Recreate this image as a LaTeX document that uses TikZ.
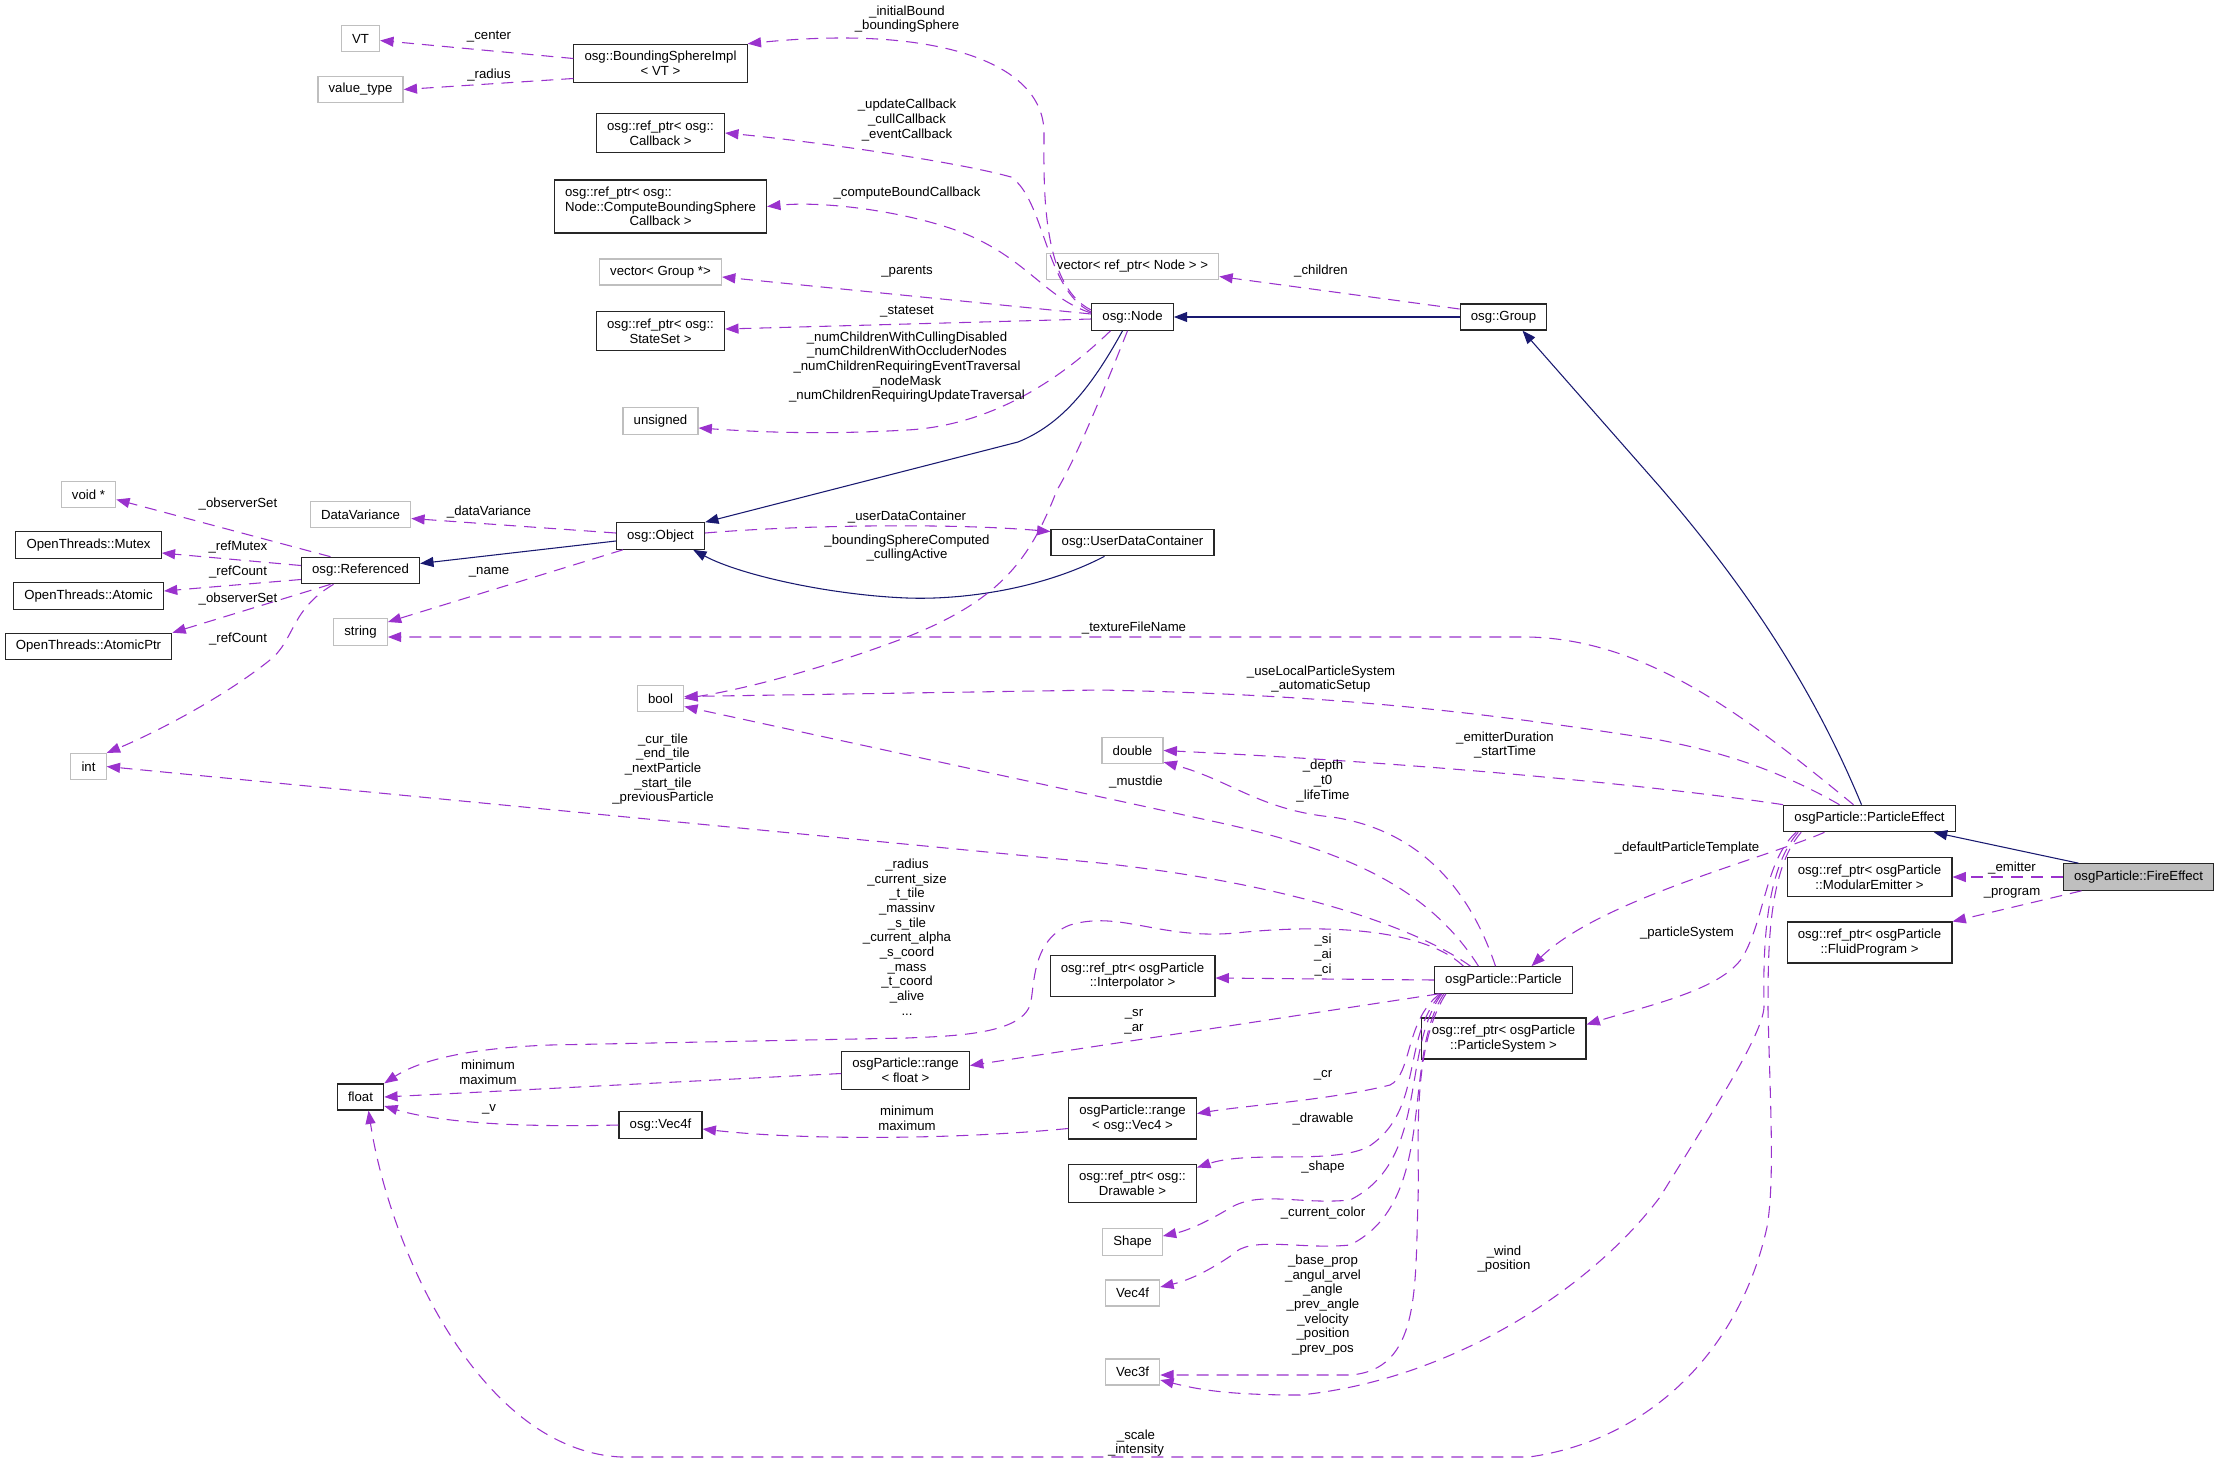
\documentclass[tikz,border=0pt]{standalone}
\usepackage{fontspec}
\setsansfont{Liberation Sans}
\usepackage{tikz}
\usetikzlibrary{calc,shapes,arrows.meta}
\definecolor{edgepurple}{HTML}{9A32CD}
\definecolor{edgenavy}{HTML}{191970}
\definecolor{boxgrey}{HTML}{BFBFBF}
\newcommand\dotfont{\fontsize{9.9pt}{11pt}\selectfont\sffamily}
\tikzstyle{classbox}=[rectangle,draw=black!85,fill=white,line width=0.9pt,
                      font=\dotfont,align=center,inner xsep=8pt,inner ysep=5.3pt,
                      minimum height=19.5pt]
\tikzstyle{extbox}=[classbox,draw=boxgrey]
\tikzstyle{focusbox}=[classbox,fill=boxgrey]
\tikzstyle{edgelabel}=[font=\dotfont,align=center,inner sep=0pt]
\tikzstyle{memberedge}=[draw=edgepurple,line width=0.8pt,dash pattern=on 9pt off 6pt,
                        -{Triangle[length=10pt,width=7.5pt]}]
\tikzstyle{baseedge}=[draw=edgenavy,line width=0.8pt,-{Triangle[length=10pt,width=7.5pt]}]
% columns of the graph, in pixels
\newcommand\colA{88.5}
\newcommand\colB{360.5}
\newcommand\colC{660.5}
\newcommand\colE{1132.5}
\newcommand\colF{1503.5}
\newcommand\colG{1869.5}
\newcommand\colH{2138.5}

\begin{document}
\begin{tikzpicture}[x=0.75pt,y=-0.75pt]
	\useasboundingbox (0,0) rectangle (2223,1464);

	% classes
	\node [extbox] (vt) at (\colB,38.5) {VT};
	\node [extbox] (valueType) at (\colB,89.5) {value\_type};
	\node [classbox] (sphereImpl) at (\colC,63.5) {osg::BoundingSphereImpl\\< VT >};
	\node [classbox] (callbackPtr) at (\colC,133) {osg::ref\_ptr< osg::\\Callback >};
	\node [classbox] (boundCallbackPtr) at (\colC,206.5) {
		\rlap{osg::ref\_ptr< osg::}\phantom{Node::ComputeBoundingSphere}\\Node::ComputeBoundingSphere\\Callback >
	};
	\node [extbox] (groupVector) at (\colC,272) {vector< Group *>};
	\node [classbox] (stateSetPtr) at (\colC,331) {osg::ref\_ptr< osg::\\StateSet >};
	\node [extbox] (unsignedT) at (\colC,421) {unsigned};
	\node [classbox] (osgNode) at (\colE,317) {osg::Node};
	\node [extbox] (childVector) at (\colE,266.5) {vector< ref\_ptr< Node > >};
	\node [classbox] (osgGroup) at (\colF,317) {osg::Group};

	\node [extbox] (voidPtr) at (\colA,494.5) {void *};
	\node [classbox] (otMutex) at (\colA,545) {OpenThreads::Mutex};
	\node [classbox] (otAtomic) at (\colA,596) {OpenThreads::Atomic};
	\node [classbox] (otAtomicPtr) at (\colA,646.5) {OpenThreads::AtomicPtr};
	\node [extbox] (intT) at (\colA,766.5) {int};
	\node [extbox] (dataVariance) at (\colB,514.5) {DataVariance};
	\node [classbox] (osgReferenced) at (\colB,570.5) {osg::Referenced};
	\node [extbox] (stringT) at (\colB,632) {string};
	\node [classbox] (osgObject) at (\colC,536) {osg::Object};
	\node [classbox] (userData) at (\colE,542.5) {osg::UserDataContainer};
	\node [extbox] (boolT) at (\colC,698.5) {bool};
	\node [extbox] (doubleT) at (\colE,750.5) {double};

	\node [classbox] (particleEffect) at (\colG,818.5) {osgParticle::ParticleEffect};
	\node [focusbox] (fireEffect) at (\colH,877) {osgParticle::FireEffect};
	\node [classbox] (emitterPtr) at (\colG,877) {osg::ref\_ptr< osgParticle\\::ModularEmitter >};
	\node [classbox] (programPtr) at (\colG,942.5) {osg::ref\_ptr< osgParticle\\::FluidProgram >};

	\node [classbox] (floatT) at (\colB,1097) {float};
	\node [classbox] (rangeFloat) at (905.5,1070.5) {osgParticle::range\\< float >};
	\node [classbox] (osgVecFour) at (\colC,1125) {osg::Vec4f};
	\node [classbox] (interpolatorPtr) at (\colE,976) {osg::ref\_ptr< osgParticle\\::Interpolator >};
	\node [classbox] (rangeVec) at (\colE,1118.5) {osgParticle::range\\< osg::Vec4 >};
	\node [classbox] (drawablePtr) at (\colE,1183.5) {osg::ref\_ptr< osg::\\Drawable >};
	\node [extbox] (shapeT) at (\colE,1242) {Shape};
	\node [extbox] (vecFour) at (\colE,1293) {Vec4f};
	\node [extbox] (vecThree) at (\colE,1372) {Vec3f};
	\node [classbox] (particle) at (\colF,980) {osgParticle::Particle};
	\node [classbox] (systemPtr) at (\colF,1038.5) {osg::ref\_ptr< osgParticle\\::ParticleSystem >};

	% inheritance
	\draw [baseedge] (osgGroup.west) -- (osgNode.east);
	\draw [baseedge] ($(osgNode.south)+(-10,0)$) .. controls (1090,390) and (1060,425) .. (1018,442) -- (osgObject.north east);
	\draw [baseedge] ($(userData.south)+(-28,0)$) .. controls (1040,590) and (960,600) .. (907,598)
		.. controls (830,595) and (740,575) .. ($(osgObject.south east)+(-12,0)$);
	\draw [baseedge] ($(osgObject.west)+(0,5)$) -- ($(osgReferenced.east)+(0,-7)$);
	\draw [baseedge] ($(particleEffect.north)+(-8,0)$) .. controls (1810,680) and (1740,580) .. (1660,487) -- ($(osgGroup.south)+(19,0)$);
	\draw [baseedge] ($(fireEffect.north)+(-60,0)$) -- ($(particleEffect.south east)+(-22,0)$);

	% members of osg::BoundingSphereImpl and osg::Node
	\draw [memberedge] ($(sphereImpl.west)+(0,-5)$) -- ($(vt.east)+(0,2)$);
	\draw [memberedge] ($(sphereImpl.west)+(0,15)$) -- (valueType.east);
	\draw [memberedge] ($(osgNode.west)+(0,-7)$) .. controls (1040,285) and (1044,180) .. (1044,133)
		.. controls (1044,60) and (930,25) .. (sphereImpl.north east);
	\draw [memberedge] ($(osgNode.west)+(0,-5)$) .. controls (1045,290) and (1045,200) .. (1011,177)
		.. controls (950,160) and (800,140) .. (callbackPtr.east);
	\draw [memberedge] ($(osgNode.west)+(0,-4)$) .. controls (1050,300) and (1030,265) .. (979,240)
		.. controls (930,215) and (830,200) .. (boundCallbackPtr.east);
	\draw [memberedge] ($(osgNode.west)+(0,-3)$) -- ($(groupVector.east)+(0,5)$);
	\draw [memberedge] ($(osgNode.west)+(0,2)$) -- ($(stateSetPtr.east)+(0,-2)$);
	\draw [memberedge] ($(osgNode.south)+(-22,0)$) .. controls (1070,370) and (1000,425) .. (907,430)
		.. controls (820,435) and (760,432) .. ($(unsignedT.east)+(0,7)$);
	\draw [memberedge] ($(osgNode.south)+(-5,0)$) .. controls (1100,400) and (1075,460) .. (1057,490)
		.. controls (1030,560) and (1000,600) .. (907,637) .. controls (820,670) and (740,690) .. (boolT.east);
	\draw [memberedge] ($(osgGroup.west)+(0,-8)$) -- ($(childVector.east)+(0,10)$);

	% members of osg::Object and osg::Referenced
	\draw [memberedge] ($(osgObject.east)+(0,-3)$) .. controls (800,525) and (950,523) .. ($(userData.west)+(0,-11)$);
	\draw [memberedge] ($(osgObject.west)+(0,-3)$) -- ($(dataVariance.east)+(0,4)$);
	\draw [memberedge] ($(osgObject.south west)+(7,0)$) -- ($(stringT.east)+(0,-10)$);
	\draw [memberedge] ($(osgReferenced.north)+(-30,0)$) -- ($(voidPtr.east)+(0,5)$);
	\draw [memberedge] ($(osgReferenced.west)+(0,-5)$) -- ($(otMutex.east)+(0,8)$);
	\draw [memberedge] ($(osgReferenced.west)+(0,9)$) -- ($(otAtomic.east)+(0,-5)$);
	\draw [memberedge] ($(osgReferenced.south)+(-30,0)$) -- (otAtomicPtr.north east);
	\draw [memberedge] ($(osgReferenced.south)+(-27,0)$) .. controls (290,610) and (295,640) .. (270,660)
		.. controls (220,700) and (150,735) .. (intT.north east);

	% members of osgParticle::ParticleEffect and osgParticle::FireEffect
	\draw [memberedge] ($(particleEffect.north)+(-16,0)$) .. controls (1750,720) and (1650,640) .. (1529,637) -- ($(stringT.east)+(0,5)$);
	\draw [memberedge] ($(particleEffect.north)+(-30,0)$) .. controls (1770,765) and (1710,750) .. (1660,740)
		.. controls (1500,715) and (1350,695) .. (1100,690) -- ($(boolT.east)+(0,-2)$);
	\draw [memberedge] (particleEffect.north west) .. controls (1720,795) and (1500,767) .. (doubleT.east);
	\draw [memberedge] ($(particleEffect.south)+(-45,0)$) .. controls (1760,860) and (1600,900) .. ($(particle.north)+(28,0)$);
	\draw [memberedge] ($(particleEffect.south west)+(13,0)$) .. controls (1765,860) and (1765,920) .. (1742,958)
		.. controls (1720,990) and (1650,1005) .. ($(systemPtr.east)+(0,-14)$);
	\draw [memberedge] ($(particleEffect.south west)+(15,0)$) .. controls (1765,870) and (1763,950) .. (1764,1005)
		.. controls (1765,1030) and (1720,1100) .. (1660,1197) .. controls (1590,1290) and (1450,1380) .. (1300,1395)
		.. controls (1230,1395) and (1200,1390) .. ($(vecThree.east)+(0,8)$);
	\draw [memberedge] ($(particleEffect.south west)+(18,0)$) .. controls (1768,870) and (1768,950) .. (1768,1010)
		.. controls (1770,1100) and (1775,1180) .. (1767,1227) .. controls (1740,1350) and (1650,1440) .. (1529,1457)
		-- (621,1457) .. controls (480,1450) and (390,1250) .. ($(floatT.south)+(8,0)$);
	\draw [memberedge] (fireEffect.west) -- (emitterPtr.east);
	\draw [memberedge] ($(fireEffect.south)+(-57,0)$) -- ($(programPtr.east)+(0,-21)$);

	% members of osgParticle::Particle
	\draw [memberedge] ($(particle.north)+(-8,0)$) .. controls (1470,890) and (1420,830) .. (1332,817)
		.. controls (1260,810) and (1230,780) .. ($(doubleT.south east)+(0,-2)$);
	\draw [memberedge] ($(particle.north)+(-25,0)$) .. controls (1430,890) and (1350,850) .. (1207,820) -- ($(boolT.east)+(0,8)$);
	\draw [memberedge] ($(particle.north)+(-33,0)$) .. controls (1420,930) and (1300,885) .. (1100,863) -- (intT.east);
	\draw [memberedge] ($(particle.north)+(-40,0)$) .. controls (1420,925) and (1310,925) .. (1236,933)
		.. controls (1160,940) and (1120,910) .. (1070,925) .. controls (1030,940) and (1035,990) .. (1030,1005)
		.. controls (1020,1035) and (950,1036) .. (907,1038) -- (550,1045)
		.. controls (470,1048) and (420,1060) .. (floatT.north east);
	\draw [memberedge] (particle.west) -- ($(interpolatorPtr.east)+(0,2)$);
	\draw [memberedge] ($(particle.south west)+(5,0)$) -- ($(rangeFloat.east)+(0,-5)$);
	\draw [memberedge] ($(particle.south west)+(6,0)$) .. controls (1405,1020) and (1412,1075) .. (1390,1085)
		.. controls (1330,1100) and (1250,1105) .. ($(rangeVec.east)+(0,-5)$);
	\draw [memberedge] ($(particle.south west)+(7,0)$) .. controls (1400,1040) and (1425,1110) .. (1368,1147)
		.. controls (1330,1165) and (1250,1150) .. ($(drawablePtr.east)+(0,-16)$);
	\draw [memberedge] ($(particle.south west)+(8,0)$) .. controls (1400,1050) and (1430,1160) .. (1350,1200)
		.. controls (1300,1205) and (1260,1190) .. (1230,1208) .. controls (1210,1220) and (1190,1230) .. ($(shapeT.east)+(0,-6)$);
	\draw [memberedge] ($(particle.south west)+(10,0)$) .. controls (1400,1060) and (1440,1200) .. (1350,1245)
		.. controls (1300,1250) and (1250,1235) .. (1232,1255) .. controls (1210,1270) and (1190,1280) .. ($(vecFour.east)+(0,-6)$);
	\draw [memberedge] ($(particle.south west)+(12,0)$) .. controls (1410,1050) and (1420,1150) .. (1418,1200)
		.. controls (1415,1290) and (1420,1370) .. (1350,1375) -- ($(vecThree.east)+(0,3)$);

	% ranges and vectors
	\draw [memberedge] ($(rangeFloat.west)+(0,3)$) -- (floatT.east);
	\draw [memberedge] (osgVecFour.west) .. controls (500,1128) and (430,1120) .. ($(floatT.east)+(0,9)$);
	\draw [memberedge] ($(rangeVec.west)+(0,10)$) .. controls (950,1140) and (800,1140) .. ($(osgVecFour.east)+(0,4)$);

	% labels
	\node [edgelabel] (lbCenter) at (489,37) {\_center};
	\node [edgelabel] (lbRadius) at (489,75) {\_radius};
	\node [edgelabel] (lbBound) at (907,19) {\_initialBound\\\_boundingSphere};
	\node [edgelabel] (lbCallback) at (907,120) {\_updateCallback\\\_cullCallback\\\_eventCallback};
	\node [edgelabel] (lbComputeBound) at (907,193) {\_computeBoundCallback};
	\node [edgelabel] (lbParents) at (907,272) {\_parents};
	\node [edgelabel] (lbStateset) at (907,312) {\_stateset};
	\node [edgelabel] (lbNumChildren) at (907,367) {
		\_numChildrenWithCullingDisabled\\\_numChildrenWithOccluderNodes\\
		\_numChildrenRequiringEventTraversal\\\_nodeMask\\\_numChildrenRequiringUpdateTraversal
	};
	\node [edgelabel] (lbChildren) at (1321,271) {\_children};
	\node [edgelabel] (lbUserData) at (907,517) {\_userDataContainer};
	\node [edgelabel] (lbSphereComputed) at (907,548) {\_boundingSphereComputed\\\_cullingActive};
	\node [edgelabel] (lbDataVariance) at (489,512) {\_dataVariance};
	\node [edgelabel] (lbName) at (489,572) {\_name};
	\node [edgelabel] (lbObserverSet) at (238,504) {\_observerSet};
	\node [edgelabel] (lbRefMutex) at (238,547) {\_refMutex};
	\node [edgelabel] (lbRefCount) at (238,572) {\_refCount};
	\node [edgelabel] (lbObserverSetPtr) at (238,599) {\_observerSet};
	\node [edgelabel] (lbRefCountInt) at (238,639) {\_refCount};
	\node [edgelabel] (lbTexture) at (1134,628) {\_textureFileName};
	\node [edgelabel] (lbLocalSystem) at (1321,679) {\_useLocalParticleSystem\\\_automaticSetup};
	\node [edgelabel] (lbEmitterDuration) at (1505,745) {\_emitterDuration\\\_startTime};
	\node [edgelabel] (lbDepth) at (1323,781) {\_depth\\\_t0\\\_lifeTime};
	\node [edgelabel] (lbMustdie) at (1136,782) {\_mustdie};
	\node [edgelabel] (lbTiles) at (663,769) {\_cur\_tile\\\_end\_tile\\\_nextParticle\\\_start\_tile\\\_previousParticle};
	\node [edgelabel] (lbFloats) at (907,937) {
		\_radius\\\_current\_size\\\_t\_tile\\\_massinv\\\_s\_tile\\\_current\_alpha\\
		\_s\_coord\\\_mass\\\_t\_coord\\\_alive\\...
	};
	\node [edgelabel] (lbMinMaxF) at (488,1072) {minimum\\maximum};
	\node [edgelabel] (lbV) at (489,1109) {\_v};
	\node [edgelabel] (lbMinMaxV) at (907,1118) {minimum\\maximum};
	\node [edgelabel] (lbSrAr) at (1134,1022) {\_sr\\\_ar};
	\node [edgelabel] (lbSiAiCi) at (1323,955) {\_si\\\_ai\\\_ci};
	\node [edgelabel] (lbCr) at (1323,1075) {\_cr};
	\node [edgelabel] (lbDrawable) at (1323,1119) {\_drawable};
	\node [edgelabel] (lbShape) at (1323,1167) {\_shape};
	\node [edgelabel] (lbColor) at (1323,1213) {\_current\_color};
	\node [edgelabel] (lbProps) at (1323,1305) {
		\_base\_prop\\\_angul\_arvel\\\_angle\\\_prev\_angle\\\_velocity\\\_position\\\_prev\_pos
	};
	\node [edgelabel] (lbWind) at (1504,1259) {\_wind\\\_position};
	\node [edgelabel] (lbTemplate) at (1687,848) {\_defaultParticleTemplate};
	\node [edgelabel] (lbSystem) at (1687,933) {\_particleSystem};
	\node [edgelabel] (lbEmitter) at (2012,868) {\_emitter};
	\node [edgelabel] (lbProgram) at (2012,893) {\_program};
	\node [edgelabel] (lbScale) at (1136,1443) {\_scale\\\_intensity};
\end{tikzpicture}
\end{document}
